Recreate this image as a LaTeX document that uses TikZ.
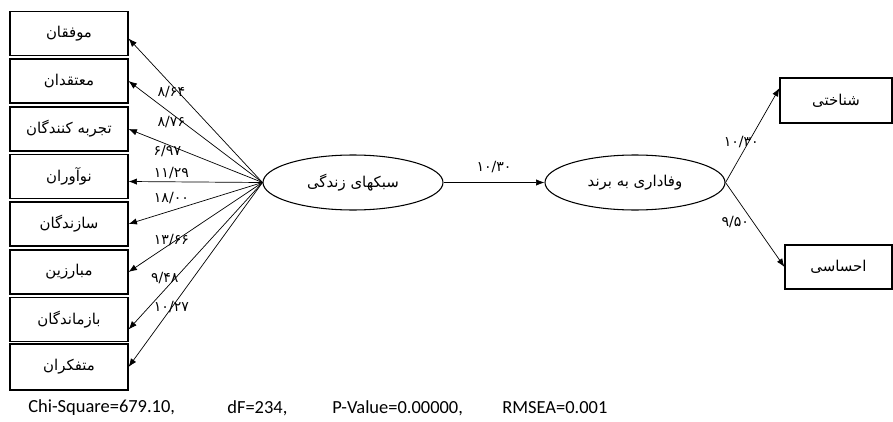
\documentclass[tikz,border=0pt]{standalone}
\usepackage{fontspec}
\setmainfont{Carlito}
\newfontfamily\arabicfont[Script=Arabic]{DejaVu Sans}
\TeXXeTstate=1
\usetikzlibrary{shapes,arrows.meta,positioning}
\newcommand{\fatxt}[1]{{\arabicfont\beginR #1\endR}}
\tikzset{
    -Latex,auto,thick,
    item/.style ={rectangle, draw, semithick, minimum width = 2.36cm, minimum height = 0.88cm,
                  font=\fontsize{8.5}{10}\selectfont},
    factor/.style = {ellipse, draw, semithick, minimum width = 3.6cm, minimum height = 1.1cm,
                  font=\fontsize{8.5}{10}\selectfont},
    coef/.style = {auto=false, anchor=center, inner sep=1pt,
                  font=\arabicfont\fontsize{8}{9}\selectfont},
    fit/.style = {anchor=west, inner sep=0pt, font=\fontsize{10.5}{12}\selectfont}
}
\begin{document}
\begin{tikzpicture}
  \useasboundingbox (0,0) rectangle (17.86,8.42);

  \node (b1) at (1.38,7.75) [item] {\fatxt{موفقان}};
  \node (b2) at (1.38,6.80) [item] {\fatxt{معتقدان}};
  \node (b3) at (1.38,5.84) [item] {\fatxt{تجربه کنندگان}};
  \node (b4) at (1.38,4.89) [item] {\fatxt{نوآوران}};
  \node (b5) at (1.38,3.94) [item] {\fatxt{سازندگان}};
  \node (b6) at (1.38,2.98) [item] {\fatxt{مبارزین}};
  \node (b7) at (1.38,2.03) [item] {\fatxt{بازماندگان}};
  \node (b8) at (1.38,1.08) [item, minimum height=0.92cm] {\fatxt{متفکران}};

  \node (S) at (7.06,4.77) [factor] {\fatxt{سبکهای زندگی}};
  \node (V) at (12.70,4.77) [factor] {\fatxt{وفاداری به برند}};

  \node (c1) at (16.72,6.41) [item, minimum width=2.24cm, minimum height=0.9cm] {\fatxt{شناختی}};
  \node (c2) at (16.77,3.08) [item, minimum width=2.14cm] {\fatxt{احساسی}};

  \path (S.west) edge node[coef, pos=.68, yshift=-0.14cm] {۸/۶۴} ([yshift=-0.1cm]b1.east);
  \path (S.west) edge node[coef, pos=.68, yshift=-0.17cm] {۸/۷۶} (b2.east);
  \path (S.west) edge node[coef, pos=.71, yshift=-0.14cm] {۶/۹۷} (b3.east);
  \path (S.west) edge node[coef, pos=.68, yshift=0.18cm] {۱۱/۲۹} ([yshift=-0.1cm]b4.east);
  \path (S.west) edge node[coef, pos=.68, yshift=0.26cm] {۱۸/۰۰} (b5.east);
  \path (S.west) edge node[coef, pos=.68, yshift=0.06cm] {۱۳/۶۶} (b6.east);
  \path (S.west) edge node[coef, pos=.73, yshift=0.24cm] {۹/۴۸} ([yshift=-0.2cm]b7.east);
  \path (S.west) edge node[coef, pos=.68, yshift=0.02cm] {۱۰/۲۷} (b8.east);

  \path (S.east) edge node[coef, pos=.5, yshift=0.31cm] {۱۰/۳۰} (V.west);
  \path (V.east) edge node[coef, pos=.43, xshift=-0.15cm] {۱۰/۳۰} ([yshift=0.25cm]c1.west);
  \path (V.east) edge node[coef, pos=.47, xshift=-0.36cm] {۹/۵۰} (c2.west);

  \node (chi) at (0.56,0.26) [fit] {Chi-Square=679.10,};
  \node (df) at (4.54,0.26) [fit] {dF=234,};
  \node (pv) at (6.64,0.26) [fit] {P-Value=0.00000,};
  \node (rm) at (10.04,0.26) [fit] {RMSEA=0.001};
\end{tikzpicture}
\end{document}
